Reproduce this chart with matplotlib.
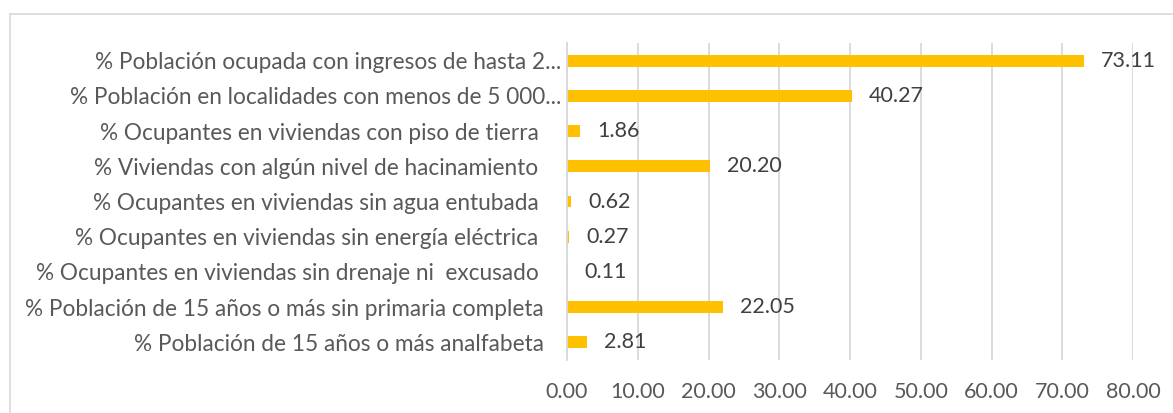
import matplotlib.pyplot as plt
from matplotlib.lines import Line2D

categories = [
    "% Población ocupada con ingresos de hasta 2...",
    "% Población en localidades con menos de 5 000...",
    "% Ocupantes en viviendas con piso de tierra    ",
    "% Viviendas con algún nivel de hacinamiento    ",
    "% Ocupantes en viviendas sin agua entubada    ",
    "% Ocupantes en viviendas sin energía eléctrica    ",
    "% Ocupantes en viviendas sin drenaje ni  excusado    ",
    "% Población de 15 años o más sin primaria completa   ",
    "% Población de 15 años o más analfabeta   ",
]
values = [73.11, 40.27, 1.86, 20.20, 0.62, 0.27, 0.11, 22.05, 2.81]
xticks = [0, 10, 20, 30, 40, 50, 60, 70, 80]

plt.rcParams['font.family'] = ['Lato', 'DejaVu Sans']

fig = plt.figure(figsize=(11.73, 4.13), dpi=100)
ax = fig.add_axes([567 / 1173, 1 - 360 / 413, (1133 - 567) / 1173, (360 - 43) / 413])

y = list(range(len(categories)))
ax.barh(y, values, height=0.34, color="#FFC000")
for yi, v in zip(y, values):
    ax.text(v + 2.4, yi, f"{v:.2f}", va="center", ha="left", fontsize=15.5, color="#404040")

ax.set_xlim(0, 80)
ax.set_ylim(len(categories) - 0.5, -0.5)
ax.set_xticks(xticks)
ax.set_xticklabels([f"{t:.2f}" for t in xticks])
ax.set_yticks(y)
ax.set_yticklabels(categories)
ax.tick_params(axis="x", length=0, pad=16, labelsize=15.5, labelcolor="#595959")
ax.tick_params(axis="y", length=0, pad=4, labelsize=16.3, labelcolor="#595959")
ax.grid(axis="x", color="#d9d9d9", linewidth=1.3)
ax.set_axisbelow(True)
for s in ["top", "right", "bottom"]:
    ax.spines[s].set_visible(False)
ax.spines["left"].set_color("#d9d9d9")
ax.spines["left"].set_linewidth(1.3)

# chart border (partly cut off in the reference)
fig.add_artist(Line2D([10 / 1173, 10 / 1173], [0, 1 - 14 / 413], color="#d9d9d9", lw=1.2))
fig.add_artist(Line2D([10 / 1173, 1], [1 - 14 / 413, 1 - 14 / 413], color="#d9d9d9", lw=1.2))

fig.savefig("out.png", dpi=100)
